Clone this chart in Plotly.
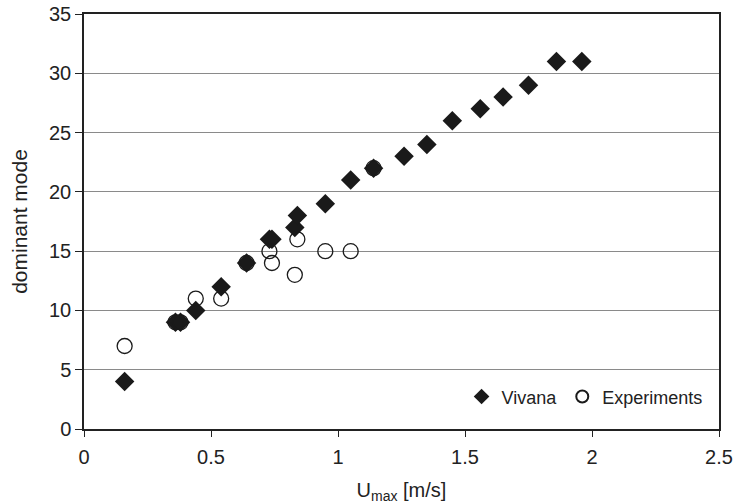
import plotly.graph_objects as go

viv_x = [0.16, 0.36, 0.38, 0.44, 0.54, 0.64, 0.73, 0.74, 0.83, 0.84, 0.95, 1.05, 1.14, 1.26, 1.35, 1.45, 1.56, 1.65, 1.75, 1.86, 1.96]
viv_y = [4, 9, 9, 10, 12, 14, 16, 16, 17, 18, 19, 21, 22, 23, 24, 26, 27, 28, 29, 31, 31]
exp_x = [0.16, 0.36, 0.38, 0.44, 0.54, 0.64, 0.73, 0.74, 0.83, 0.84, 0.95, 1.05, 1.14]
exp_y = [7, 9, 9, 11, 11, 14, 15, 14, 13, 16, 15, 15, 22]

x_ticks = [0, 0.5, 1, 1.5, 2, 2.5]
x_tick_labels = ["0", "0.5", "1", "1.5", "2", "2.5"]
y_ticks = [0, 5, 10, 15, 20, 25, 30, 35]

font = "Liberation Sans, Arial, sans-serif"

fig = go.Figure()
fig.add_trace(go.Scatter(
    x=viv_x, y=viv_y, mode="markers", name="Vivana",
    marker=dict(symbol="diamond", size=15, color="#1a1a1a", line=dict(width=0)),
))
fig.add_trace(go.Scatter(
    x=exp_x, y=exp_y, mode="markers", name="Experiments",
    marker=dict(symbol="circle-open", size=15, color="#1a1a1a", line=dict(width=1.3)),
))

fig.update_layout(
    width=736, height=504,
    margin=dict(l=84, r=17, t=14, b=75),
    paper_bgcolor="white", plot_bgcolor="white",
    font=dict(family=font, size=20, color="#222"),
    showlegend=True,
    legend=dict(orientation="h", x=0.982, y=0.033, xanchor="right", yanchor="bottom",
                font=dict(size=18), bgcolor="rgba(0,0,0,0)", itemsizing="constant",
                itemwidth=30, tracegroupgap=0),
    xaxis=dict(
        range=[0, 2.5], tickvals=x_ticks, ticktext=x_tick_labels,
        showgrid=False, zeroline=False, automargin=False,
        showline=True, linecolor="#222", linewidth=1.5, mirror=True,
        ticks="outside", ticklen=6, tickcolor="#222", tickfont=dict(size=20),
        ticklabelstandoff=3,
        title=dict(text="U<sub>max</sub> [m/s]", standoff=18, font=dict(size=20)),
    ),
    yaxis=dict(
        range=[0, 35], tickvals=y_ticks,
        showgrid=True, gridcolor="#8a8a8a", gridwidth=1.2, zeroline=False, automargin=False,
        showline=True, linecolor="#222", linewidth=1.5, mirror=True,
        ticks="outside", ticklen=7, tickcolor="#222", tickfont=dict(size=20),
        title=dict(text="dominant mode", standoff=16, font=dict(size=21)),
    ),
)

fig.write_html("out.html")
